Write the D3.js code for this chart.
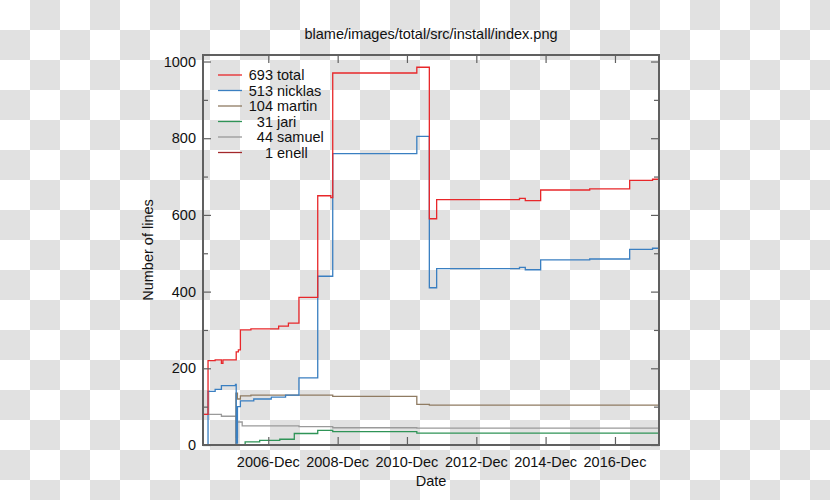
<!DOCTYPE html>
<html><head><meta charset="utf-8">
<script src="https://cdn.jsdelivr.net/npm/d3@7"></script>
<style>html,body{margin:0;padding:0;background:#fff;}svg{display:block;}</style>
</head><body>
<svg id="c" width="830" height="500"></svg>
<script>
const title = "blame/images/total/src/install/index.png";
const yLabel = "Number of lines";
const xLabel = "Date";
const xTickDates = ["2006-12-01","2008-12-01","2010-12-01","2012-12-01","2014-12-01","2016-12-01"];
const xTickLabels = ["2006-Dec","2008-Dec","2010-Dec","2012-Dec","2014-Dec","2016-Dec"];
const yMajorTicks = [0,200,400,600,800,1000];
const yMinorTicks = [100,300,500,700,900];
const names = ["total","nicklas","martin","jari","samuel","enell"];
const counts = [693,513,104,31,44,1];
const colors = ["#e8272a","#3a7fc1","#8f7b62","#2f9457","#9a9a9a","#a3282b"];

const totalSeries = [["2005-01-12",80],["2005-03-06",220],["2005-05-20",222],["2005-07-25",213],["2005-08-10",222],["2005-12-28",243],["2006-01-20",248],["2006-02-10",300],["2006-06-01",303],["2007-03-20",310],["2007-07-01",318],["2007-10-20",385],["2008-05-05",650],["2008-09-20",645],["2008-10-10",970],["2011-03-15",985],["2011-07-25",590],["2011-10-10",640],["2014-03-01",643],["2014-05-01",637],["2014-10-10",665],["2016-03-10",668],["2017-05-05",690],["2018-01-01",693],["2018-03-10",693]];
const nicklasSeries = [["2005-01-12",0],["2005-03-06",140],["2005-05-20",145],["2005-07-25",155],["2005-12-20",158],["2005-12-28",5],["2006-01-10",100],["2006-02-10",115],["2006-07-01",120],["2007-01-01",125],["2007-06-01",130],["2007-10-20",175],["2008-05-05",440],["2008-10-10",760],["2011-03-15",805],["2011-07-25",410],["2011-10-10",460],["2014-03-01",463],["2014-05-01",457],["2014-10-10",483],["2016-03-10",485],["2017-05-05",510],["2018-01-01",513],["2018-03-10",513]];
const martinSeries = [["2005-01-12",0],["2005-12-25",135],["2006-01-10",120],["2006-02-10",128],["2006-06-01",130],["2008-10-10",127],["2011-03-15",106],["2011-07-25",104],["2018-03-10",104]];
const jariSeries = [["2005-01-12",0],["2006-04-01",8],["2006-09-01",12],["2007-04-01",15],["2007-09-01",30],["2008-05-05",38],["2008-10-10",35],["2011-03-15",31],["2018-03-10",31]];
const samuelSeries = [["2005-01-12",80],["2005-07-25",75],["2005-12-28",20],["2006-01-10",60],["2006-03-01",50],["2007-10-20",48],["2008-10-10",45],["2011-03-15",44],["2018-03-10",44]];
const enellSeries = [["2005-01-12",1],["2018-03-10",1]];
const allSeries = [totalSeries,nicklasSeries,martinSeries,jariSeries,samuelSeries,enellSeries];

const parse = d3.timeParse("%Y-%m-%d");
const svg = d3.select("#c");
const W=830,H=500;
const L=203,R=659,T=55,B=445;
const font = "Liberation Sans, Arial, sans-serif";

// checkerboard (transparent background look)
const defs = svg.append("defs");
const pat = defs.append("pattern").attr("id","chk").attr("patternUnits","userSpaceOnUse").attr("width",60).attr("height",60);
pat.append("rect").attr("width",60).attr("height",60).attr("fill","#ffffff");
pat.append("rect").attr("x",30).attr("y",0).attr("width",30).attr("height",30).attr("fill","#e1e1e1");
pat.append("rect").attr("x",0).attr("y",30).attr("width",30).attr("height",30).attr("fill","#e1e1e1");
svg.append("rect").attr("width",W).attr("height",H).attr("fill","url(#chk)");

const x = d3.scaleTime().domain([parse("2005-01-12"),parse("2018-03-10")]).range([L,R]);
const y = d3.scaleLinear().domain([0,1017]).range([B,T]);

// lines
const line = d3.line().x(d=>x(parse(d[0]))).y(d=>y(d[1])).curve(d3.curveStepAfter);
const order = [5,4,3,2,1,0];
order.forEach(i=>{
  svg.append("path").attr("d",line(allSeries[i])).attr("fill","none")
    .attr("stroke",colors[i]).attr("stroke-width",1.3);
});

// axes
const g = svg.append("g");
const frameColor="#606060";
function tickAxis(axis, scaleFn, vals, size, transform){
  const a = axis(scaleFn).tickValues(vals).tickSize(size).tickFormat("");
  const gg = g.append("g").attr("transform",transform).call(a);
  gg.select(".domain").remove();
  gg.selectAll("line").attr("stroke",frameColor).attr("stroke-width",1.2);
}
tickAxis(d3.axisRight, y, yMajorTicks, 8, `translate(${L},0)`);
tickAxis(d3.axisRight, y, yMinorTicks, 5, `translate(${L},0)`);
tickAxis(d3.axisLeft, y, yMajorTicks, 8, `translate(${R},0)`);
tickAxis(d3.axisLeft, y, yMinorTicks, 5, `translate(${R},0)`);
tickAxis(d3.axisTop, x, xTickDates.map(parse), 8, `translate(0,${B})`);
tickAxis(d3.axisBottom, x, xTickDates.map(parse), 8, `translate(0,${T})`);

// y tick labels
g.selectAll(".ylab").data(yMajorTicks).enter().append("text")
  .attr("x",L-7).attr("y",d=>y(d)).attr("dy","0.35em").attr("text-anchor","end")
  .attr("font-family",font).attr("font-size",14.5).attr("fill","#111").text(d=>d);
// x tick labels
g.selectAll(".xlab").data(xTickDates).enter().append("text")
  .attr("x",d=>x(parse(d))).attr("y",467).attr("text-anchor","middle")
  .attr("font-family",font).attr("font-size",14.5).attr("fill","#111").text((d,i)=>xTickLabels[i]);

// frame
g.append("rect").attr("x",L).attr("y",T).attr("width",R-L).attr("height",B-T)
  .attr("fill","none").attr("stroke",frameColor).attr("stroke-width",2);

// titles
svg.append("text").attr("x",(L+R)/2).attr("y",39).attr("text-anchor","middle")
  .attr("font-family",font).attr("font-size",14.5).attr("fill","#111").text(title);
svg.append("text").attr("x",(L+R)/2).attr("y",486).attr("text-anchor","middle")
  .attr("font-family",font).attr("font-size",14.5).attr("fill","#111").text(xLabel);
svg.append("text").attr("transform",`translate(153,${(T+B)/2}) rotate(-90)`).attr("text-anchor","middle")
  .attr("font-family",font).attr("font-size",14.5).attr("fill","#111").text(yLabel);

// legend
const leg = svg.append("g");
names.forEach((n,i)=>{
  const yy = 75 + i*15.5;
  leg.append("line").attr("x1",218).attr("x2",242).attr("y1",yy).attr("y2",yy)
    .attr("stroke",colors[i]).attr("stroke-width",1.3);
  leg.append("text").attr("x",273).attr("y",yy).attr("dy","0.35em").attr("text-anchor","end")
    .attr("font-family",font).attr("font-size",14.5).attr("fill","#111").text(counts[i]);
  leg.append("text").attr("x",277).attr("y",yy).attr("dy","0.35em")
    .attr("font-family",font).attr("font-size",14.5).attr("fill","#111").text(n);
});
</script>
</body></html>
